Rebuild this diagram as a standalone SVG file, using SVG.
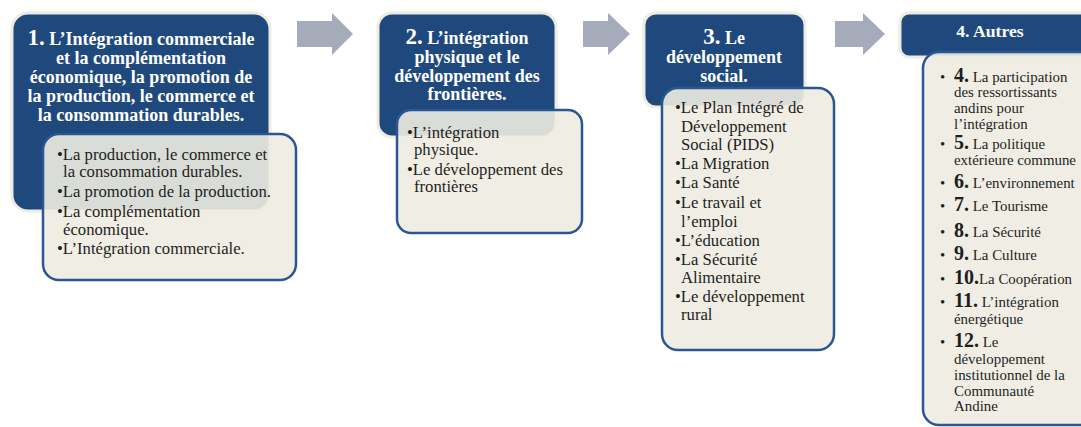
<svg xmlns="http://www.w3.org/2000/svg" width="1081" height="427" viewBox="0 0 1081 427">
<style>
.hdr{fill:#1F497D;stroke:#EEECE1;stroke-width:3}
.sub{fill:#EEECE1;fill-opacity:0.9;stroke:#2A5793;stroke-width:2.5}
.ht{font-family:'Liberation Serif','Times New Roman',serif;font-weight:bold;font-size:18px;fill:#FFFFFF;text-anchor:middle}
.hn{font-size:23px}
.st{font-family:'Liberation Serif','Times New Roman',serif;font-size:16.7px;fill:#1E1E1E}
.s4{font-family:'Liberation Serif','Times New Roman',serif;font-size:14.9px;fill:#1E1E1E}
.n4{font-weight:bold;font-size:20px}
.arr{fill:#A6ABBC}
</style>
<rect width="1081" height="427" fill="#FFFFFF"/>
<g id="connectors">
<polygon class="arr" points="297,21 332,21 332,13 353,34 332,55 332,47 297,47"/>
<polygon class="arr" points="583,21 608,21 608,13 630,34 608,55 608,47 583,47"/>
<polygon class="arr" points="835,21 863,21 863,13 885,34 863,55 863,47 835,47"/>
</g>
<g id="node1">
<rect class="hdr" x="12" y="13" width="258" height="198" rx="16"/>
<text class="ht"><tspan x="141" y="45"><tspan class="hn">1.</tspan> L’Intégration commerciale</tspan><tspan x="141" y="64">et la complémentation</tspan><tspan x="141" y="83">économique, la promotion de</tspan><tspan x="141" y="102">la production, le commerce et</tspan><tspan x="141" y="121">la consommation durables.</tspan></text>
<rect class="sub" x="43" y="134" width="253" height="146" rx="16"/>
<text class="st"><tspan x="57" y="160">•La production, le commerce et</tspan><tspan x="63" y="177">la consommation durables.</tspan><tspan x="57" y="197">•La promotion de la production.</tspan><tspan x="57" y="217">•La complémentation</tspan><tspan x="63" y="235">économique.</tspan><tspan x="57" y="254">•L’Intégration commerciale.</tspan></text>
</g>
<g id="node2">
<rect class="hdr" x="378" y="13" width="178" height="124" rx="14"/>
<text class="ht"><tspan x="467" y="44"><tspan class="hn">2.</tspan> L’intégration</tspan><tspan x="467" y="63">physique et le</tspan><tspan x="467" y="82">développement des</tspan><tspan x="467" y="100">frontières.</tspan></text>
<rect class="sub" x="397" y="110" width="185" height="123" rx="14"/>
<text class="st"><tspan x="407" y="138">•L’intégration</tspan><tspan x="414" y="155">physique.</tspan><tspan x="407" y="175">•Le développement des</tspan><tspan x="414" y="192">frontières</tspan></text>
</g>
<g id="node3">
<rect class="hdr" x="644" y="13" width="161" height="94" rx="12"/>
<text class="ht"><tspan x="724" y="44"><tspan class="hn">3.</tspan> Le</tspan><tspan x="724" y="63">développement</tspan><tspan x="724" y="82">social.</tspan></text>
<rect class="sub" x="662" y="88" width="172" height="262" rx="16"/>
<text class="st"><tspan x="675" y="113">•Le Plan Intégré de</tspan><tspan x="681" y="132">Développement</tspan><tspan x="681" y="150">Social (PIDS)</tspan><tspan x="675" y="169">•La Migration</tspan><tspan x="675" y="188">•La Santé</tspan><tspan x="675" y="208">•Le travail et</tspan><tspan x="681" y="227">l’emploi</tspan><tspan x="675" y="246">•L’éducation</tspan><tspan x="675" y="265">•La Sécurité</tspan><tspan x="681" y="283">Alimentaire</tspan><tspan x="675" y="302">•Le développement</tspan><tspan x="681" y="320">rural</tspan></text>
</g>
<g id="node4">
<rect class="hdr" x="900" y="13" width="200" height="44" rx="9"/>
<text class="ht" x="990" y="37" style="font-size:17.7px">4. Autres</text>
<rect class="sub" x="923" y="52" width="180" height="373" rx="16"/>
<text class="s4"><tspan x="940" y="82">•</tspan><tspan x="954" y="82"><tspan class="n4">4.</tspan> La participation</tspan><tspan x="954" y="97">des ressortissants</tspan><tspan x="954" y="113">andins pour</tspan><tspan x="954" y="129">l’intégration</tspan><tspan x="940" y="149">•</tspan><tspan x="954" y="149"><tspan class="n4">5.</tspan> La politique</tspan><tspan x="954" y="165">extérieure commune</tspan><tspan x="940" y="188">•</tspan><tspan x="954" y="188"><tspan class="n4">6.</tspan> L’environnement</tspan><tspan x="940" y="211">•</tspan><tspan x="954" y="211"><tspan class="n4">7.</tspan> Le Tourisme</tspan><tspan x="940" y="237">•</tspan><tspan x="954" y="237"><tspan class="n4">8.</tspan> La Sécurité</tspan><tspan x="940" y="260">•</tspan><tspan x="954" y="260"><tspan class="n4">9.</tspan> La Culture</tspan><tspan x="940" y="284">•</tspan><tspan x="954" y="284"><tspan class="n4">10.</tspan>La Coopération</tspan><tspan x="940" y="307">•</tspan><tspan x="954" y="307"><tspan class="n4">11.</tspan> L’intégration</tspan><tspan x="954" y="324">énergétique</tspan><tspan x="940" y="347">•</tspan><tspan x="954" y="347"><tspan class="n4">12.</tspan> Le</tspan><tspan x="954" y="364">développement</tspan><tspan x="954" y="380">institutionnel de la</tspan><tspan x="954" y="396">Communauté</tspan><tspan x="954" y="411">Andine</tspan></text>
</g>
</svg>
